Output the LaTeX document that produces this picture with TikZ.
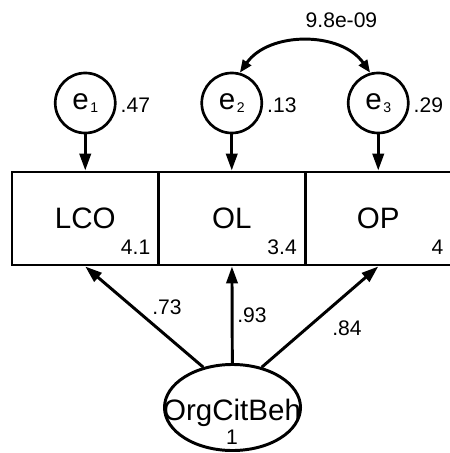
\documentclass[tikz,border=0pt]{standalone}
\usepackage{fontspec}
\setmainfont{Liberation Sans}
\usetikzlibrary{arrows.meta,shapes.geometric}
\newcommand{\errname}[1]{e\kern0.05em\raisebox{-0.12em}{\fontsize{10}{10}\selectfont #1}}
\tikzset{
  bigfont/.style={font=\fontsize{21}{24}\selectfont},
  numlab/.style={font=\fontsize{15}{18}\selectfont, inner sep=1pt},
  obsbox/.style={draw, line width=2.1pt, minimum width=3.6625cm, minimum height=2.325cm, inner sep=0pt, bigfont},
  errcirc/.style={draw, circle, line width=1.9pt, minimum size=1.5cm, inner sep=0pt, bigfont},
  latent/.style={draw, ellipse, line width=2.1pt, minimum width=3.4cm, minimum height=2.15cm, inner sep=0pt},
  loadarrow/.style={line width=2.1pt, -{Triangle[length=12pt,width=8pt]}},
  covarrow/.style={line width=2.1pt, {Triangle[length=9pt,width=7pt]}-{Triangle[length=9pt,width=7pt]}}
}
\begin{document}
\begin{tikzpicture}[x=0.025cm,y=-0.025cm]
\useasboundingbox (0,0) rectangle (449,453);
% observed variables
\node[obsbox] (lco) at (85.25,218.5) {LCO};
\node[obsbox] (ol) at (231.75,218.5) {OL};
\node[obsbox] (op) at (378.25,218.5) {OP};
\node[numlab, anchor=base east] (lcov) at ([xshift=-0.2cm,yshift=0.3cm]lco.south east) {4.1};
\node[numlab, anchor=base east] (olv) at ([xshift=-0.2cm,yshift=0.3cm]ol.south east) {3.4};
\node[numlab, anchor=base east] (opv) at ([xshift=-0.2cm,yshift=0.3cm]op.south east) {4};
% errors
\node[errcirc] (e1) at (85.25,103) {\errname{1}};
\node[errcirc] (e2) at (231.75,103) {\errname{2}};
\node[errcirc] (e3) at (378.25,103) {\errname{3}};
\node[numlab, anchor=west] (e1v) at ([xshift=0.06cm,yshift=-0.05cm]e1.east) {.47};
\node[numlab, anchor=west] (e2v) at ([xshift=0.06cm,yshift=-0.05cm]e2.east) {.13};
\node[numlab, anchor=west] (e3v) at ([xshift=0.06cm,yshift=-0.05cm]e3.east) {.29};
\draw[loadarrow] (e1) -- (lco);
\draw[loadarrow] (e2) -- (ol);
\draw[loadarrow] (e3) -- (op);
\draw[covarrow] (e2.75) to[bend left=55] (e3.105);
\node[numlab, anchor=west] (cov) at (304,20) {9.8e-09};
% latent factor
\node[latent] (ocb) at (232.5,407.5) {};
\node[bigfont] (ocbname) at (232,413) {OrgCitBeh};
\node[numlab] (ocbv) at (232,437.5) {1};
\draw[loadarrow] (ocb.126) -- (lco.south);
\draw[loadarrow] (ocb) -- (ol);
\draw[loadarrow] (ocb.54) -- (op.south);
\node[numlab] (l1) at (167,307) {.73};
\node[numlab] (l2) at (252,315) {.93};
\node[numlab] (l3) at (347,328) {.84};
\end{tikzpicture}
\end{document}
